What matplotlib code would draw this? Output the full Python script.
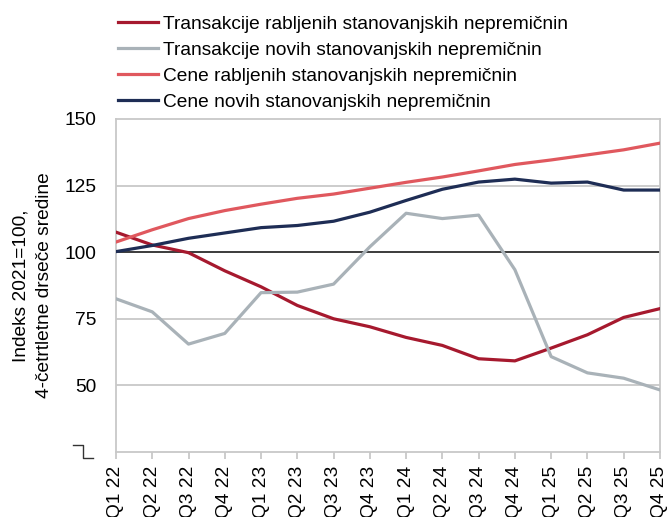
import matplotlib
matplotlib.use("Agg")
import matplotlib.pyplot as plt

plt.rcParams['font.family'] = ['Liberation Sans', 'DejaVu Sans']

quarters = ["Q1 22", "Q2 22", "Q3 22", "Q4 22", "Q1 23", "Q2 23", "Q3 23", "Q4 23",
            "Q1 24", "Q2 24", "Q3 24", "Q4 24", "Q1 25", "Q2 25", "Q3 25", "Q4 25"]

trans_used = [107.5, 102.7, 99.8, 93.0, 87.0, 80.0, 75.0, 72.0,
              68.0, 65.0, 60.0, 59.2, 64.0, 69.0, 75.5, 78.8]
trans_new = [82.5, 77.6, 65.5, 69.5, 84.8, 85.0, 88.0, 102.0,
             114.6, 112.6, 113.9, 93.4, 60.8, 54.7, 52.7, 48.3]
price_used = [103.8, 108.4, 112.6, 115.6, 118.0, 120.2, 121.8, 124.0,
              126.2, 128.2, 130.5, 132.9, 134.6, 136.5, 138.4, 140.9]
price_new = [100.2, 102.5, 105.2, 107.2, 109.2, 110.0, 111.6, 115.0,
             119.4, 123.6, 126.3, 127.4, 125.9, 126.3, 123.3, 123.3]

labels = ["Transakcije rabljenih stanovanjskih nepremičnin",
          "Transakcije novih stanovanjskih nepremičnin",
          "Cene rabljenih stanovanjskih nepremičnin",
          "Cene novih stanovanjskih nepremičnin"]
colors = ["#A6192E", "#A9B2B8", "#E0585E", "#1E2D55"]

fs = 13.75

fig = plt.figure(figsize=(6.7, 5.17), dpi=100)
ax = fig.add_axes([0.1731, 0.1257, 0.8119, 0.6443])

x = list(range(len(quarters)))
for ys, lab, c in zip([trans_used, trans_new, price_used, price_new], labels, colors):
    ax.plot(x, ys, color=c, lw=2.3, label=lab, zorder=3)

ax.set_xlim(0, len(quarters) - 1)
ax.set_ylim(25, 150)
ax.set_yticks([50, 75, 100, 125, 150])
for v in [50, 75, 125]:
    ax.axhline(v, color="#C8C8C8", lw=1.3, zorder=1)
ax.axhline(100, color="#1A1A1A", lw=1.2, zorder=2)

ax.set_xticks(x)
ax.set_xticklabels(quarters, rotation=90)
ax.tick_params(axis="x", direction="out", length=5, width=1.3, color="#C8C8C8",
               labelsize=fs, pad=5)
ax.tick_params(axis="y", length=0, labelsize=fs, pad=14)
for s in ax.spines.values():
    s.set_color("#C8C8C8")
    s.set_linewidth(1.3)

ax.set_ylabel("Indeks 2021=100,\n4-četrtletne drseče sredine", fontsize=fs,
              labelpad=8, linespacing=1.5)

# axis break marker at the bottom of the y axis
y0 = ax.transData.transform((0, 25))[1]
x0 = ax.transAxes.transform((0, 0))[0]
bx = [-43, -33, -33, -23]
by = [7, 7, -6, -6]
brk = plt.Line2D([x0 + b for b in bx], [y0 + b for b in by], transform=None,
                 color="#333333", lw=1.0, clip_on=False)
fig.add_artist(brk)

fig.legend(loc="upper left", bbox_to_anchor=(0.165, 0.985), frameon=False,
           fontsize=fs, handlelength=2.1, handletextpad=0.26, labelspacing=0.45,
           borderaxespad=0)

fig.savefig("out.png", dpi=100)
